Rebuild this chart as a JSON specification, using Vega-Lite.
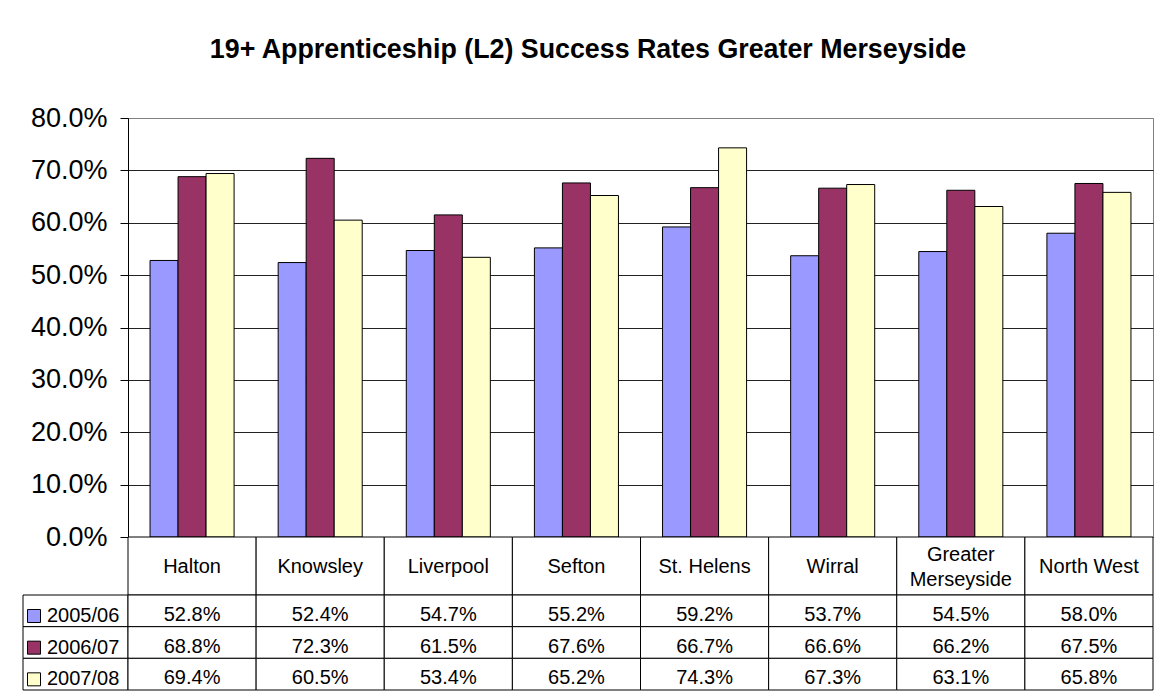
{
  "$schema": "https://vega.github.io/schema/vega-lite/v6.json",
  "padding": {"left": 22, "top": 36, "right": 0, "bottom": 0},
  "background": "white",
  "title": {
    "text": "19+ Apprenticeship (L2) Success Rates Greater Merseyside",
    "fontSize": 26.8,
    "fontWeight": "bold",
    "color": "black",
    "anchor": "middle",
    "offset": 40
  },
  "data": {
    "values": [
      {"category": "Halton", "series": "2005/06", "value": 0.528},
      {"category": "Halton", "series": "2006/07", "value": 0.688},
      {"category": "Halton", "series": "2007/08", "value": 0.694},
      {"category": "Knowsley", "series": "2005/06", "value": 0.524},
      {"category": "Knowsley", "series": "2006/07", "value": 0.723},
      {"category": "Knowsley", "series": "2007/08", "value": 0.605},
      {"category": "Liverpool", "series": "2005/06", "value": 0.547},
      {"category": "Liverpool", "series": "2006/07", "value": 0.615},
      {"category": "Liverpool", "series": "2007/08", "value": 0.534},
      {"category": "Sefton", "series": "2005/06", "value": 0.552},
      {"category": "Sefton", "series": "2006/07", "value": 0.676},
      {"category": "Sefton", "series": "2007/08", "value": 0.652},
      {"category": "St. Helens", "series": "2005/06", "value": 0.592},
      {"category": "St. Helens", "series": "2006/07", "value": 0.667},
      {"category": "St. Helens", "series": "2007/08", "value": 0.743},
      {"category": "Wirral", "series": "2005/06", "value": 0.537},
      {"category": "Wirral", "series": "2006/07", "value": 0.666},
      {"category": "Wirral", "series": "2007/08", "value": 0.673},
      {"category": "Greater\nMerseyside", "series": "2005/06", "value": 0.545},
      {"category": "Greater\nMerseyside", "series": "2006/07", "value": 0.662},
      {"category": "Greater\nMerseyside", "series": "2007/08", "value": 0.631},
      {"category": "North West", "series": "2005/06", "value": 0.580},
      {"category": "North West", "series": "2006/07", "value": 0.675},
      {"category": "North West", "series": "2007/08", "value": 0.658}
    ]
  },
  "columns": 2,
  "spacing": 0,
  "bounds": "flush",
  "concat": [
    {
      "width": 105,
      "height": 419,
      "mark": {"type": "text", "text": ""},
      "encoding": {}
    },
    {
      "width": 1025,
      "height": 419,
      "view": {"stroke": "#808080", "strokeWidth": 1},
      "mark": {"type": "bar", "stroke": "black", "strokeWidth": 1},
      "encoding": {
        "x": {
          "field": "category",
          "type": "nominal",
          "sort": ["Halton", "Knowsley", "Liverpool", "Sefton", "St. Helens", "Wirral", "Greater\nMerseyside", "North West"],
          "scale": {"paddingInner": 0.344, "paddingOuter": 0.172},
          "axis": null
        },
        "xOffset": {
          "field": "series",
          "type": "nominal",
          "sort": ["2005/06", "2006/07", "2007/08"],
          "scale": {"paddingInner": 0, "paddingOuter": 0}
        },
        "y": {
          "field": "value",
          "type": "quantitative",
          "scale": {"domain": [0, 0.8], "nice": false, "zero": true},
          "axis": {
            "title": null,
            "format": ".1%",
            "values": [0, 0.1, 0.2, 0.3, 0.4, 0.5, 0.6, 0.7, 0.8],
            "labelFontSize": 27,
            "labelColor": "black",
            "labelPadding": 13,
            "tickSize": 8,
            "tickColor": "black",
            "domainColor": "black",
            "domainWidth": 1,
            "grid": true,
            "gridColor": {"condition": {"test": "datum.value >= 0.8", "value": "#808080"}, "value": "#222222"},
            "gridWidth": 1
          }
        },
        "color": {
          "field": "series",
          "type": "nominal",
          "sort": ["2005/06", "2006/07", "2007/08"],
          "scale": {"domain": ["2005/06", "2006/07", "2007/08"], "range": ["#9999FF", "#993366", "#FFFFCC"]},
          "legend": {
            "orient": "none",
            "legendX": 1,
            "legendY": 488,
            "direction": "vertical",
            "title": null,
            "symbolType": "square",
            "symbolSize": 169,
            "symbolStrokeColor": "black",
            "symbolStrokeWidth": 1,
            "symbolOpacity": 1,
            "labelFontSize": 20,
            "labelColor": "black",
            "labelOffset": 3,
            "rowPadding": 11.67,
            "padding": 0
          }
        }
      }
    },
    {
      "width": 105,
      "height": 58,
      "mark": {"type": "text", "text": ""},
      "encoding": {}
    },
    {
      "width": 1025,
      "height": 58,
      "transform": [{"aggregate": [{"op": "count", "as": "n"}], "groupby": ["category"]}],
      "encoding": {
        "x": {
          "field": "category",
          "type": "nominal",
          "sort": ["Halton", "Knowsley", "Liverpool", "Sefton", "St. Helens", "Wirral", "Greater\nMerseyside", "North West"],
          "scale": {"paddingInner": 0, "paddingOuter": 0},
          "axis": null
        }
      },
      "layer": [
        {"mark": {"type": "rect", "fill": "white", "stroke": "black", "strokeWidth": 1}},
        {
          "transform": [{"filter": "indexof(datum.category, '\\n') < 0"}],
          "mark": {"type": "text", "fontSize": 20, "color": "black", "dy": 1},
          "encoding": {"text": {"field": "category", "type": "nominal"}}
        },
        {
          "transform": [{"filter": "indexof(datum.category, '\\n') >= 0"}],
          "mark": {"type": "text", "fontSize": 20, "color": "black", "lineBreak": "\n", "lineHeight": 24.5, "dy": -11},
          "encoding": {"text": {"field": "category", "type": "nominal"}}
        }
      ]
    },
    {
      "width": 105,
      "height": 95,
      "transform": [{"aggregate": [{"op": "count", "as": "n"}], "groupby": ["series"]}],
      "mark": {"type": "rect", "fill": "white", "stroke": "black", "strokeWidth": 1},
      "encoding": {
        "y": {
          "field": "series",
          "type": "nominal",
          "sort": ["2005/06", "2006/07", "2007/08"],
          "scale": {"paddingInner": 0, "paddingOuter": 0},
          "axis": null
        }
      }
    },
    {
      "width": 1025,
      "height": 95,
      "encoding": {
        "x": {
          "field": "category",
          "type": "nominal",
          "sort": ["Halton", "Knowsley", "Liverpool", "Sefton", "St. Helens", "Wirral", "Greater\nMerseyside", "North West"],
          "scale": {"paddingInner": 0, "paddingOuter": 0},
          "axis": null
        },
        "y": {
          "field": "series",
          "type": "nominal",
          "sort": ["2005/06", "2006/07", "2007/08"],
          "scale": {"paddingInner": 0, "paddingOuter": 0},
          "axis": null
        }
      },
      "layer": [
        {"mark": {"type": "rect", "fill": "white", "stroke": "black", "strokeWidth": 1}},
        {
          "mark": {"type": "text", "fontSize": 20, "color": "black", "dy": 4},
          "encoding": {"text": {"field": "value", "type": "quantitative", "format": ".1%"}}
        }
      ]
    }
  ],
  "config": {
    "font": "Liberation Sans",
    "view": {"stroke": null}
  }
}
